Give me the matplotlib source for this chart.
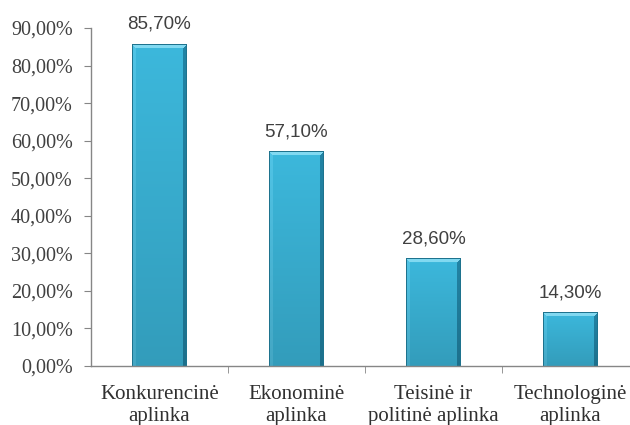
import numpy as np
import matplotlib
matplotlib.use("Agg")
import matplotlib.pyplot as plt

# aplinkos veiksniai ir jų dalis, %
categories = ["Konkurencinė\naplinka", "Ekonominė\naplinka",
              "Teisinė ir\npolitinė aplinka", "Technologinė\naplinka"]
values = [85.7, 57.1, 28.6, 14.3]
yticks = [0, 10, 20, 30, 40, 50, 60, 70, 80, 90]

W, H, DPI = 630, 425, 100
fig = plt.figure(figsize=(W / DPI, H / DPI), dpi=DPI)
ax = fig.add_axes([91 / W, 59 / H, 548 / W, 338 / H])

ax.set_xlim(-0.5, 3.5)
ax.set_ylim(0, 90)

bar_w = 0.4
px_x = 548 / 4.0   # pikseliai vienai kategorijai
px_y = 338 / 90.0  # pikseliai vienam procentui


def bevel_image(hpx, wpx, b=4):
    """Stačiakampio su nuožulniais kraštais paveikslėlis (RGB)."""
    base = np.array([60, 184, 220]) / 255
    top = np.array([130, 218, 242]) / 255
    left = np.array([80, 196, 230]) / 255
    right = np.array([34, 132, 165]) / 255
    edge = np.array([30, 115, 142]) / 255
    yy, xx = np.mgrid[0:hpx, 0:wpx]
    dl = xx
    dr = wpx - 1 - xx
    dt = yy
    img = np.ones((hpx, wpx, 3)) * base
    m_top = (dt < b) & (dt <= dl) & (dt <= dr)
    m_left = (dl < b) & (dl < dt) & (dl <= dr)
    m_right = (dr < b) & (dr < dt) & (dr < dl)
    img[m_left] = left
    img[m_right] = right
    img[m_top] = top
    # lengvas šešėlis į apačią
    shade = 1 - 0.15 * (yy / max(hpx - 1, 1))
    img = img * shade[..., None]
    img[(dl == 0) | (dr == 0) | (dt == 0)] = edge
    return np.clip(img, 0, 1)


for i, v in enumerate(values):
    hpx = max(int(round(v * px_y)), 2)
    wpx = int(round(bar_w * px_x))
    ax.imshow(bevel_image(hpx, wpx), extent=(i - bar_w / 2, i + bar_w / 2, 0, v),
              aspect="auto", interpolation="bilinear", zorder=2)
    ax.text(i, v + 3.0, f"{v:.2f}%".replace(".", ","), ha="center", va="bottom",
            fontsize=13.5, color="#404040", family="Liberation Sans")

ax.set_xlim(-0.5, 3.5)
ax.set_ylim(0, 90)

for s in ["top", "right"]:
    ax.spines[s].set_visible(False)
for s in ["left", "bottom"]:
    ax.spines[s].set_color("#868686")
    ax.spines[s].set_linewidth(1.0)

ax.set_yticks(yticks)
ax.set_yticklabels([f"{t:.2f}%".replace(".", ",") for t in yticks],
                   family="Liberation Serif", fontsize=14.5, color="#404040")
ax.tick_params(axis="y", length=5, color="#868686", pad=8)

ax.set_xticks(range(len(categories)))
ax.set_xticklabels(categories, family="Liberation Serif", fontsize=15,
                   color="#303030", linespacing=1.2)
ax.tick_params(axis="x", which="major", length=0, pad=14)
ax.set_xticks([0.5, 1.5, 2.5], minor=True)
ax.tick_params(axis="x", which="minor", length=5, color="#868686")

fig.savefig("out.png", dpi=DPI)
